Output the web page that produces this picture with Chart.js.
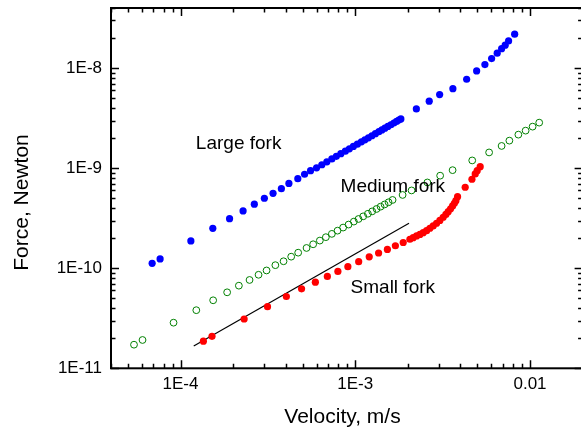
<!DOCTYPE html>
<html>
<head>
<meta charset="utf-8">
<script src="https://cdn.jsdelivr.net/npm/chart.js@4.4.1/dist/chart.umd.min.js"></script>
<style>
  html, body { margin: 0; padding: 0; overflow: hidden; background: #fff; }
  #wrap { width: 585px; height: 429px; }
</style>
</head>
<body>
<div id="wrap"><canvas id="forceChart" width="585" height="429"></canvas></div>
<script>
// Large fork (blue, filled)
const largeV = [6.88e-5, 7.64e-5, 1.146e-4, 1.53e-4, 1.908e-4, 2.28e-4, 2.645e-4, 3.018e-4, 3.384e-4, 3.776e-4,
    4.17e-4, 4.69e-4, 5.126e-4, 5.547e-4, 6.004e-4, 6.437e-4, 6.877e-4, 7.346e-4, 7.793e-4, 8.27e-4,
    8.775e-4, 9.254e-4, 9.75e-4, 1.028e-3, 1.084e-3, 1.135e-3, 1.189e-3, 1.245e-3, 1.304e-3, 1.365e-3,
    1.42e-3, 1.477e-3, 1.537e-3, 1.599e-3, 1.663e-3, 1.723e-3, 1.776e-3, 1.824e-3,
    2.237e-3, 2.65e-3, 3.04e-3, 3.62e-3, 4.34e-3, 4.95e-3, 5.52e-3, 6.03e-3, 6.49e-3, 6.88e-3,
    7.21e-3, 7.54e-3, 8.17e-3];
const largeF = [1.12e-10, 1.24e-10, 1.875e-10, 2.51e-10, 3.13e-10, 3.74e-10, 4.37e-10, 5.01e-10, 5.62e-10, 6.25e-10,
    7.05e-10, 7.87e-10, 8.71e-10, 9.46e-10, 1.01e-9, 1.084e-9, 1.159e-9, 1.239e-9, 1.315e-9, 1.397e-9,
    1.483e-9, 1.565e-9, 1.651e-9, 1.741e-9, 1.837e-9, 1.924e-9, 2.016e-9, 2.113e-9, 2.214e-9, 2.319e-9,
    2.414e-9, 2.513e-9, 2.617e-9, 2.723e-9, 2.835e-9, 2.938e-9, 3.03e-9, 3.11e-9,
    3.92e-9, 4.68e-9, 5.45e-9, 6.25e-9, 7.76e-9, 9.4e-9, 1.087e-8, 1.248e-8, 1.413e-8, 1.57e-8,
    1.70e-8, 1.875e-8, 2.19e-8];

// Medium fork (green, open)
const mediumV = [5.416e-5, 6.06e-5, 9.12e-5, 1.231e-4, 1.537e-4, 1.848e-4, 2.157e-4, 2.483e-4, 2.796e-4, 3.107e-4,
    3.489e-4, 3.887e-4, 4.298e-4, 4.713e-4, 5.262e-4, 5.741e-4, 6.27e-4, 6.787e-4, 7.346e-4, 7.917e-4,
    8.52e-4, 9.155e-4, 9.817e-4, 1.044e-3, 1.110e-3, 1.181e-3, 1.25e-3, 1.324e-3, 1.396e-3, 1.472e-3,
    1.551e-3, 1.635e-3, 1.866e-3, 2.10e-3, 2.586e-3, 3.06e-3, 3.606e-3, 4.67e-3, 5.834e-3, 6.879e-3,
    7.62e-3, 8.58e-3, 9.44e-3, 1.035e-2, 1.129e-2];
const mediumF = [1.722e-11, 1.919e-11, 2.858e-11, 3.81e-11, 4.786e-11, 5.75e-11, 6.70e-11, 7.64e-11, 8.61e-11, 9.51e-11,
    1.074e-10, 1.175e-10, 1.306e-10, 1.432e-10, 1.596e-10, 1.738e-10, 1.892e-10, 2.046e-10, 2.208e-10, 2.377e-10,
    2.553e-10, 2.735e-10, 2.93e-10, 3.11e-10, 3.304e-10, 3.508e-10, 3.707e-10, 3.917e-10, 4.13e-10, 4.345e-10,
    4.57e-10, 4.82e-10, 5.41e-10, 6.0e-10, 7.21e-10, 8.43e-10, 9.57e-10, 1.197e-9, 1.439e-9, 1.671e-9,
    1.888e-9, 2.168e-9, 2.377e-9, 2.606e-9, 2.858e-9];

// Small fork (red, filled)
const smallV = [1.351e-4, 1.514e-4, 2.312e-4, 3.147e-4, 4.033e-4, 4.927e-4, 5.91e-4, 6.923e-4, 7.953e-4, 9.07e-4,
    1.046e-3, 1.202e-3, 1.36e-3, 1.527e-3, 1.697e-3, 1.881e-3, 2.054e-3, 2.145e-3, 2.244e-3, 2.344e-3,
    2.448e-3, 2.56e-3, 2.673e-3, 2.792e-3, 2.92e-3, 3.05e-3, 3.185e-3, 3.30e-3, 3.402e-3, 3.511e-3,
    3.606e-3, 3.692e-3, 3.766e-3, 3.85e-3, 4.257e-3, 4.652e-3, 4.859e-3, 4.988e-3, 5.188e-3];
const smallF = [1.866e-11, 2.089e-11, 3.112e-11, 4.13e-11, 5.224e-11, 6.237e-11, 7.261e-11, 8.28e-11, 9.29e-11, 1.038e-10,
    1.164e-10, 1.303e-10, 1.422e-10, 1.542e-10, 1.679e-10, 1.811e-10, 1.95e-10, 2.023e-10, 2.104e-10, 2.178e-10,
    2.27e-10, 2.377e-10, 2.512e-10, 2.649e-10, 2.818e-10, 3.006e-10, 3.236e-10, 3.451e-10, 3.681e-10, 3.936e-10,
    4.198e-10, 4.467e-10, 4.742e-10, 5.2e-10, 6.457e-10, 7.762e-10, 8.77e-10, 9.46e-10, 1.038e-9];

// slope-1 guide line
const guideV = [1.19e-4, 2.03e-3];
const guideF = [1.67e-11, 2.82e-10];

const xTickValues = [1e-4, 1e-3, 1e-2];
const xTickLabels = ["1E-4", "1E-3", "0.01"];
const yTickValues = [1e-11, 1e-10, 1e-9, 1e-8];
const yTickLabels = ["1E-11", "1E-10", "1E-9", "1E-8"];

const labelTexts = ["Large fork", "Medium fork", "Small fork"];
const labelV = [1.224e-4, 8.24e-4, 9.4e-4];
const labelF = [1.56e-9, 5.73e-10, 5.6e-11];

const FONT = "'Liberation Sans', Arial, sans-serif";

function toPoints(xs, ys) {
    return xs.map((x, i) => ({ x: x, y: ys[i] }));
}

// frame, inward ticks on all four sides, titles and labels
const framePlugin = {
    id: "frame",
    afterDatasetsDraw(chart) {
        const ctx = chart.ctx;
        const a = chart.chartArea;
        const xs = chart.scales.x;
        const ys = chart.scales.y;
        ctx.save();
        ctx.strokeStyle = "#000";
        ctx.lineWidth = 2;
        ctx.strokeRect(a.left, a.top, a.right - a.left, a.bottom - a.top);

        ctx.lineWidth = 1.5;
        ctx.beginPath();
        for (let e = -5; e <= -1; e++) {
            for (let m = 1; m <= 9; m++) {
                const v = m * Math.pow(10, e);
                if (v < xs.min || v > xs.max) continue;
                const px = Math.round(xs.getPixelForValue(v)) + 0.5;
                const len = m === 1 ? 8 : 4.5;
                ctx.moveTo(px, a.bottom); ctx.lineTo(px, a.bottom - len);
                ctx.moveTo(px, a.top); ctx.lineTo(px, a.top + len);
            }
        }
        for (let e = -12; e <= -7; e++) {
            for (let m = 1; m <= 9; m++) {
                const v = m * Math.pow(10, e);
                if (v < ys.min || v > ys.max) continue;
                const py = Math.round(ys.getPixelForValue(v)) + 0.5;
                const len = m === 1 ? 8 : 4.5;
                ctx.moveTo(a.left, py); ctx.lineTo(a.left + len, py);
                ctx.moveTo(a.right, py); ctx.lineTo(a.right - len, py);
            }
        }
        ctx.stroke();

        ctx.fillStyle = "#000";
        ctx.font = "19px " + FONT;
        ctx.textAlign = "left";
        ctx.textBaseline = "alphabetic";
        labelTexts.forEach((t, i) => {
            ctx.fillText(t, xs.getPixelForValue(labelV[i]), ys.getPixelForValue(labelF[i]));
        });

        ctx.font = "21px " + FONT;
        ctx.textAlign = "center";
        ctx.fillText("Velocity, m/s", 342.5, 422.5);
        ctx.translate(27.5, 202.5);
        ctx.rotate(-Math.PI / 2);
        ctx.fillText("Force, Newton", 0, 0);
        ctx.restore();
    }
};

const ctxForce = document.getElementById("forceChart").getContext("2d");
new Chart(ctxForce, {
    type: "scatter",
    data: {
        datasets: [
            {
                label: "Large fork",
                data: toPoints(largeV, largeF),
                backgroundColor: "#0000ff",
                borderWidth: 0,
                pointRadius: 3.6
            },
            {
                label: "Medium fork",
                data: toPoints(mediumV, mediumF),
                backgroundColor: "rgba(0,0,0,0)",
                borderColor: "#008000",
                pointBorderWidth: 1,
                pointRadius: 3.4
            },
            {
                label: "Small fork",
                data: toPoints(smallV, smallF),
                backgroundColor: "#ff0000",
                borderWidth: 0,
                pointRadius: 3.6
            },
            {
                label: "slope 1",
                data: toPoints(guideV, guideF),
                showLine: true,
                borderColor: "#000",
                borderWidth: 1.2,
                pointRadius: 0
            }
        ]
    },
    options: {
        responsive: false,
        animation: false,
        layout: { autoPadding: false, padding: { left: 0, top: 8, right: 2.4, bottom: 0 } },
        plugins: { legend: { display: false }, tooltip: { enabled: false } },
        scales: {
            x: {
                type: "logarithmic",
                min: 4e-5,
                max: 2e-2,
                grid: { display: false, drawTicks: false },
                border: { display: false },
                afterBuildTicks: (axis) => { axis.ticks = xTickValues.map(v => ({ value: v })); },
                afterFit: (axis) => { axis.height = 60.7; axis.paddingLeft = 0; axis.paddingRight = 0; },
                ticks: {
                    autoSkip: false,
                    maxRotation: 0,
                    padding: 6,
                    color: "#000",
                    font: { family: FONT, size: 17 },
                    callback: (value, index) => xTickLabels[index]
                }
            },
            y: {
                type: "logarithmic",
                min: 1e-11,
                max: 4e-8,
                grid: { display: false, drawTicks: false },
                border: { display: false },
                afterBuildTicks: (axis) => { axis.ticks = yTickValues.map(v => ({ value: v })); },
                afterFit: (axis) => { axis.width = 111; axis.paddingTop = 0; axis.paddingBottom = 0; },
                ticks: {
                    autoSkip: false,
                    padding: 9,
                    color: "#000",
                    font: { family: FONT, size: 17 },
                    callback: (value, index) => yTickLabels[index]
                }
            }
        }
    },
    plugins: [framePlugin]
});
</script>
</body>
</html>
